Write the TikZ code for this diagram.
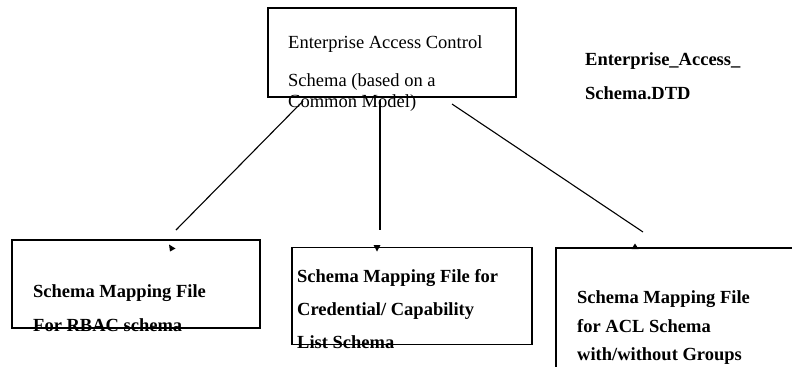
\documentclass[tikz,border=0pt]{standalone}
\usepackage{fontspec}
\setmainfont{Liberation Serif}
\begin{document}
\begin{tikzpicture}[x=1bp,y=-1bp,
  box/.style={draw,line width=1.3bp,rectangle,inner sep=0pt},
  lbl/.style={anchor=base west,inner sep=0pt,font=\fontsize{18.5bp}{20bp}\selectfont},
  blbl/.style={lbl,font=\fontsize{18.5bp}{20bp}\selectfont\bfseries},
  conn/.style={line width=1.1bp},
  tip/.style={fill=black}]
\useasboundingbox (0,0) rectangle (792,366);
\clip (0,0) rectangle (792,366);
% boxes
\node[box,minimum width=248bp,minimum height=89bp] (top) at (392,52.5) {};
\node[box,minimum width=248bp,minimum height=88bp] (b1) at (136,284) {};
\node[box,minimum width=240bp,minimum height=97bp] (b2) at (412,296) {};
\node[box,minimum width=260bp,minimum height=140bp] (b3) at (686,318) {};
% top box text
\node[lbl] (t1) at (288,48) {Enterprise Access Control};
\node[lbl] (t2) at (288,86) {Schema (based on a};
\node[lbl] (t3) at (288,107) {Common Model)};
% DTD label
\node[blbl] (d1) at (585,65) {Enterprise\_Access\_};
\node[blbl] (d2) at (585,99) {Schema.DTD};
% box 1 text
\node[blbl] (a1) at (33,297) {Schema Mapping File};
\node[blbl] (a2) at (33,331) {For RBAC schema};
% box 2 text
\node[blbl] (c1) at (297,282) {Schema Mapping File for};
\node[blbl] (c2) at (297,315) {Credential/ Capability};
\node[blbl] (c3) at (297,348) {List Schema};
% box 3 text
\node[blbl] (e1) at (577,303) {Schema Mapping File};
\node[blbl] (e2) at (577,332) {for ACL Schema};
\node[blbl] (e3) at (577,360) {with/without Groups};
% connectors
\coordinate (s1) at (303,101);
\coordinate (s2) at (380,100);
\coordinate (s3) at (452,104);
\coordinate (f1) at (176,230);
\coordinate (f2) at (380,230);
\coordinate (f3) at (643,232);
\draw[conn] (s1) -- (f1);
\draw[conn] (s2) -- (f2);
\draw[conn] (s3) -- (f3);
% arrowheads
\fill[tip] (169,244.5) -- (175.5,248.5) -- (170,251.5) -- cycle;
\fill[tip] (373.5,245) -- (380.5,245) -- (377,251.5) -- cycle;
\fill[tip] (635,243.5) -- (638.5,249) -- (631.5,249) -- cycle;
\end{tikzpicture}
\end{document}
